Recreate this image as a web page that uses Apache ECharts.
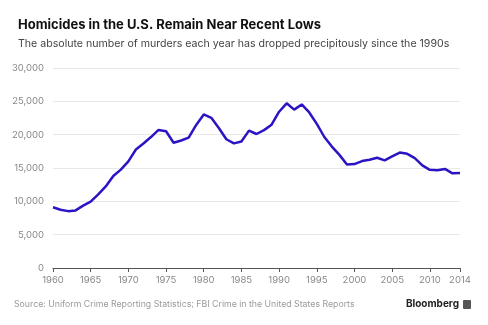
<!DOCTYPE html>
<html><head><meta charset="utf-8">
<script src="https://cdn.jsdelivr.net/npm/echarts@6/dist/echarts.min.js"></script>
<style>html,body{margin:0;padding:0;background:#fff}#c{width:488px;height:325px}</style>
</head><body><div id="c"></div>
<script>
const years = [];
for (let y = 1960; y <= 2014; y++) years.push(String(y));
const murders = [9110, 8740, 8530, 8640, 9360, 9960, 11040, 12240, 13800, 14760,
  16000, 17780, 18670, 19640, 20710, 20510, 18780, 19120, 19560, 21460,
  23040, 22520, 21010, 19310, 18690, 18980, 20610, 20100, 20680, 21500,
  23440, 24700, 23760, 24530, 23330, 21610, 19650, 18210, 16970, 15520,
  15590, 16040, 16230, 16530, 16150, 16740, 17310, 17130, 16470, 15400,
  14720, 14660, 14860, 14200, 14250];
const xTickLabels = ['1960','1965','1970','1975','1980','1985','1990','1995','2000','2005','2010','2014'];
const yTicks = [0, 5000, 10000, 15000, 20000, 25000, 30000];
const titleText = 'Homicides in the U.S. Remain Near Recent Lows';
const subtitleText = 'The absolute number of murders each year has dropped precipitously since the 1990s';
const sourceText = 'Source: Uniform Crime Reporting Statistics; FBI Crime in the United States Reports';

const chart = echarts.init(document.getElementById('c'), null, {renderer: 'canvas'});
const showTick = (i) => xTickLabels.indexOf(years[i]) >= 0;
chart.setOption({
  animation: false,
  backgroundColor: '#fff',
  textStyle: {fontFamily: 'Inter, "Noto Sans", sans-serif'},
  title: [
    {text: titleText, left: 13, top: 14, textStyle: {fontFamily: 'Inter', fontWeight: 'bold', fontSize: 13, color: '#111', letterSpacing: -0.5}},
    {text: subtitleText, left: 13, top: 33, textStyle: {fontFamily: 'Inter', fontWeight: 'normal', fontSize: 10.6, color: '#444'}}
  ],
  grid: {left: 53, right: 28, top: 68, bottom: 57, containLabel: false},
  xAxis: {
    type: 'category', data: years, boundaryGap: false,
    axisLine: {lineStyle: {color: '#555', width: 1}},
    axisTick: {show: true, length: 4, interval: (i) => showTick(i), lineStyle: {color: '#555'}},
    axisLabel: {interval: (i) => showTick(i), color: '#888', fontSize: 9.5, margin: 7, fontFamily: 'Inter'}
  },
  yAxis: {
    type: 'value', min: 0, max: 30000, interval: 5000,
    axisLine: {show: false}, axisTick: {show: false},
    splitLine: {lineStyle: {color: '#e8e8e8', width: 1}},
    axisLabel: {color: '#888', fontSize: 9.5, margin: 9, fontFamily: 'Inter',
      formatter: (v) => yTicks.indexOf(v) >= 0 ? v.toLocaleString('en-US') : ''}
  },
  series: [{
    type: 'line', data: murders, symbol: 'none', smooth: false,
    lineStyle: {color: '#2b14c4', width: 2.5}
  }],
  graphic: [
    {type: 'text', left: 14, top: 300, style: {text: sourceText, fill: '#9a9a9a', fontSize: 8.75, fontFamily: 'Inter'}},
    {type: 'text', right: 29, top: 299, style: {text: 'Bloomberg', fill: '#222', fontSize: 10, fontWeight: 'bold', fontFamily: 'Inter', letterSpacing: -0.3}},
    {type: 'rect', right: 17, top: 300, shape: {width: 8, height: 9, r: 1}, style: {fill: '#555'}}
  ]
});
</script>
</body></html>
